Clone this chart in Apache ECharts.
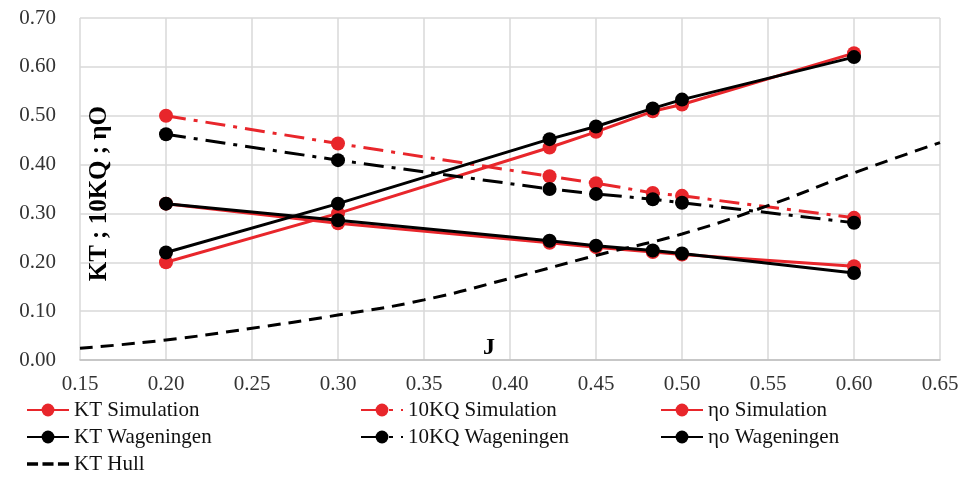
<!DOCTYPE html>
<html><head><meta charset="utf-8">
<script src="https://cdn.jsdelivr.net/npm/echarts@6/dist/echarts.min.js"></script>
<style>html,body{margin:0;padding:0;background:#fff}#c{width:963px;height:483px}</style>
</head><body><div id="c"></div>
<script>
const J = [0.20, 0.30, 0.423, 0.45, 0.483, 0.50, 0.60];
const ktSim = [0.20, 0.30, 0.435, 0.467, 0.509, 0.523, 0.628];
const ktWag = [0.22, 0.32, 0.452, 0.478, 0.515, 0.533, 0.620];
const kqSim = [0.50, 0.443, 0.376, 0.362, 0.342, 0.336, 0.291];
const kqWag = [0.462, 0.409, 0.350, 0.340, 0.329, 0.322, 0.281];
const etaSim = [0.32, 0.280, 0.240, 0.231, 0.221, 0.216, 0.192];
const etaWag = [0.32, 0.286, 0.244, 0.234, 0.224, 0.218, 0.178];
const hullJ = [0.15, 0.20, 0.25, 0.30, 0.35, 0.40, 0.45, 0.50, 0.55, 0.60, 0.65];
const hullKT = [0.024, 0.041, 0.065, 0.092, 0.123, 0.167, 0.214, 0.258, 0.316, 0.383, 0.445];
const xTicks = [0.15, 0.20, 0.25, 0.30, 0.35, 0.40, 0.45, 0.50, 0.55, 0.60, 0.65];

const RED = '#e8262b', BLACK = '#000000';
const FONT = '"Liberation Serif", "Times New Roman", serif';
const pair = (xs, ys) => xs.map((x, i) => [x, ys[i]]);
const DASHDOT = [20, 8, 4, 8];

function ser(name, color, ys, type) {
  return {
    name, type: 'line', data: pair(J, ys), symbol: 'circle', symbolSize: 14,
    lineStyle: { color, width: 3, type: type || 'solid' },
    itemStyle: { color }, z: color === RED ? 2 : 3
  };
}

const chart = echarts.init(document.getElementById('c'));
const legendBase = {
  orient: 'vertical', itemWidth: 42, itemHeight: 16, itemGap: 5, padding: 0,
  textStyle: { fontFamily: FONT, fontSize: 21, color: '#111', lineHeight: 22 }
};
const hullIcon = 'path://M0,0H10V3H0Z M14,0H24V3H14Z M28,0H38V3H28Z';
chart.setOption({
  animation: false,
  grid: { left: 80, right: 23, top: 18, bottom: 123 },
  xAxis: {
    type: 'value', min: 0.15, max: 0.65, interval: 0.05,
    axisLine: { show: true, lineStyle: { color: '#bfbfbf', width: 1.5 } },
    axisTick: { show: false },
    splitLine: { show: true, lineStyle: { color: '#d9d9d9', width: 1.5 } },
    axisLabel: { fontFamily: FONT, fontSize: 21, color: '#333', margin: 14,
      formatter: v => { const t = xTicks.find(k => Math.abs(k - v) < 1e-6); return (t !== undefined ? t : v).toFixed(2); } }
  },
  yAxis: {
    type: 'value', min: 0, max: 0.7, interval: 0.1,
    axisLine: { show: false }, axisTick: { show: false },
    splitLine: { show: true, lineStyle: { color: '#d9d9d9', width: 1.5 } },
    axisLabel: { fontFamily: FONT, fontSize: 21, color: '#333', margin: 24, formatter: v => v.toFixed(2) }
  },
  legend: [
    Object.assign({}, legendBase, { left: 26, top: 399, data: ['KT Simulation', 'KT Wageningen', { name: 'KT Hull', icon: hullIcon, itemStyle: { color: BLACK } }] }),
    Object.assign({}, legendBase, { left: 360, top: 399, data: ['10KQ Simulation', '10KQ Wageningen'] }),
    Object.assign({}, legendBase, { left: 660, top: 399, data: ['ηo Simulation', 'ηo Wageningen'] })
  ],
  graphic: [
    { type: 'text', left: 87, top: 106, rotation: Math.PI / 2, z: 10,
      style: { text: 'KT ; 10KQ ; ηO', font: 'bold 25px ' + FONT, fill: '#000' } },
    { type: 'text', left: 483, top: 336, z: 10,
      style: { text: 'J', font: 'bold 24px ' + FONT, fill: '#000' } }
  ],
  series: [
    ser('KT Simulation', RED, ktSim),
    ser('10KQ Simulation', RED, kqSim, DASHDOT),
    ser('ηo Simulation', RED, etaSim),
    ser('KT Wageningen', BLACK, ktWag),
    ser('10KQ Wageningen', BLACK, kqWag, DASHDOT),
    ser('ηo Wageningen', BLACK, etaWag),
    { name: 'KT Hull', type: 'line', data: pair(hullJ, hullKT), smooth: true, symbol: 'none',
      lineStyle: { color: BLACK, width: 3, type: [13, 8] }, itemStyle: { color: BLACK }, z: 4 }
  ]
});
</script></body></html>
